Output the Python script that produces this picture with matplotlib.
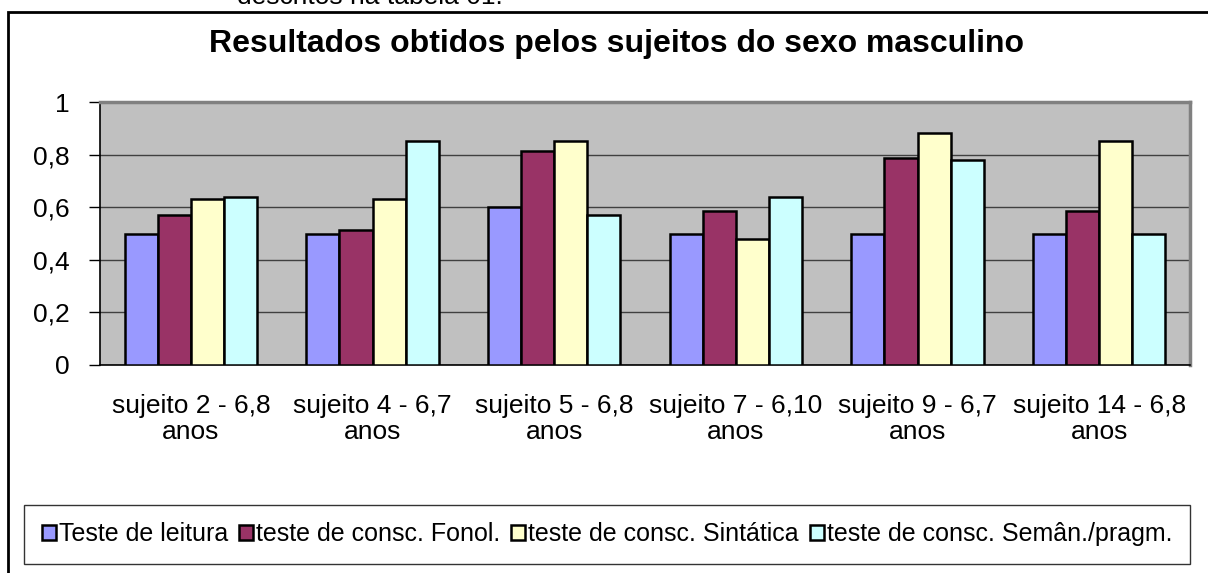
import numpy as np
import matplotlib
matplotlib.use("Agg")
import matplotlib.pyplot as plt
from matplotlib.patches import Rectangle

# data
sujeitos = ["sujeito 2 - 6,8\nanos", "sujeito 4 - 6,7\nanos", "sujeito 5 - 6,8\nanos",
            "sujeito 7 - 6,10\nanos", "sujeito 9 - 6,7\nanos", "sujeito 14 - 6,8\nanos"]
leitura = [0.50, 0.50, 0.60, 0.50, 0.50, 0.50]
fonol = [0.57, 0.513, 0.815, 0.586, 0.786, 0.586]
sintatica = [0.63, 0.63, 0.85, 0.48, 0.882, 0.85]
semantica = [0.64, 0.85, 0.57, 0.64, 0.78, 0.50]
series_names = ["Teste de leitura", "teste de consc. Fonol.",
                "teste de consc. Sintática", "teste de consc. Semân./pragm."]
y_ticks = [0, 0.2, 0.4, 0.6, 0.8, 1.0]
y_labels = ["0", "0,2", "0,4", "0,6", "0,8", "1"]

colors = ["#9999FF", "#993366", "#FFFFCC", "#CCFFFF"]

plt.rcParams['font.family'] = ['Liberation Sans', 'DejaVu Sans']

W, H = 1208, 573
fig = plt.figure(figsize=(W / 100, H / 100), dpi=100)

# outer chart frame (right and bottom edges are cut off)
fig.patches.append(Rectangle((8 / W, -0.1), 1.2, 1 - 12 / H + 0.1, transform=fig.transFigure,
                             fill=False, edgecolor="black", linewidth=2, clip_on=False))

# text from the page above, mostly cut off
fig.text(237 / W, 1 - 4 / H, "descritos na tabela 01.", fontsize=19, ha="left", va="baseline")

fig.text(616 / W, 1 - 52 / H, "Resultados obtidos pelos sujeitos do sexo masculino",
         fontsize=23, fontweight="bold", ha="center", va="baseline")

ax = fig.add_axes([100 / W, 1 - 365 / H, 1090 / W, 263 / H])
ax.set_facecolor("#C0C0C0")

x = np.arange(len(sujeitos))
w = 1 / 5.5
all_series = [leitura, fonol, sintatica, semantica]
for i, vals in enumerate(all_series):
    ax.bar(x + (i - 1.5) * w, vals, width=w, color=colors[i], edgecolor="black",
           linewidth=1.8, label=series_names[i], zorder=3)

ax.set_xlim(-0.5, len(sujeitos) - 0.5)
ax.set_ylim(0, 1)
ax.set_yticks(y_ticks)
ax.set_yticklabels(y_labels, fontsize=19)
ax.set_xticks(x)
ax.set_xticklabels(sujeitos, fontsize=19, linespacing=1.1)
ax.tick_params(axis="x", length=0, pad=21)
ax.tick_params(axis="y", length=8, width=1, direction="out", pad=14)
ax.yaxis.grid(True, color="#404040", linewidth=1, zorder=1)

for side in ["top", "right"]:
    ax.spines[side].set_color("#808080")
    ax.spines[side].set_linewidth(2.5)
for side in ["left", "bottom"]:
    ax.spines[side].set_color("black")
    ax.spines[side].set_linewidth(1.2)

leg = fig.legend(loc="center", bbox_to_anchor=(607 / W, 1 - 534 / H), ncol=4, fontsize=18,
                 frameon=True, fancybox=False, edgecolor="black", handlelength=0.55,
                 handleheight=0.55, handletextpad=0.12, columnspacing=0.45,
                 borderpad=0.7)
leg.get_frame().set_linewidth(1)

fig.savefig("out.png", dpi=100)
